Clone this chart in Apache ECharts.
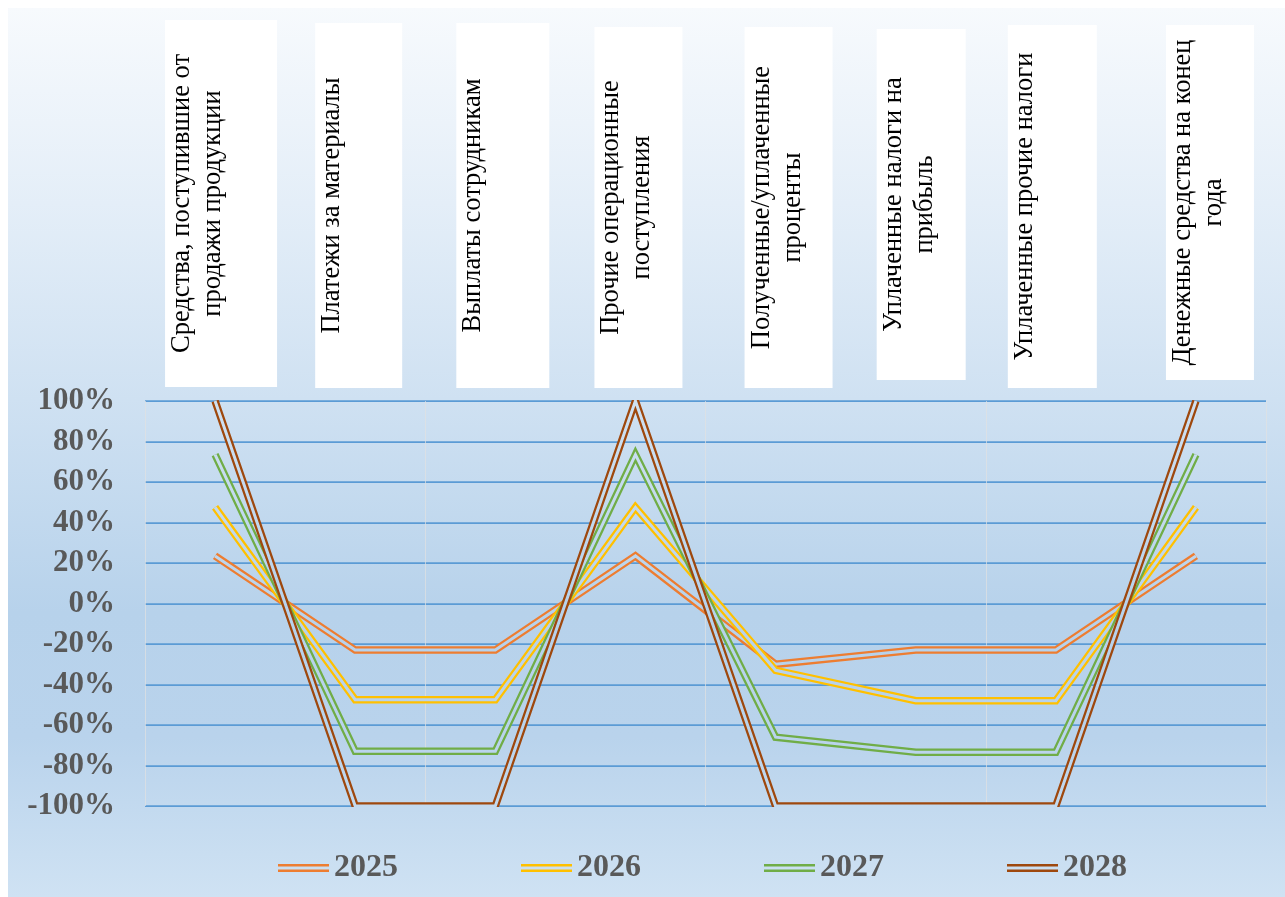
<!DOCTYPE html>
<html>
<head>
<meta charset="utf-8">
<script src="https://cdn.jsdelivr.net/npm/echarts@6/dist/echarts.min.js"></script>
<style>
html,body{margin:0;padding:0;background:#fff;width:1285px;height:897px;overflow:hidden;}
#chart{position:absolute;left:8px;top:8px;width:1277px;height:889px;
background:linear-gradient(to bottom,#f7fafd 0%,#e4eef8 22%,#cfe1f2 44%,#b7d2eb 68%,#b9d3ec 82%,#cfe2f3 100%);}
</style>
</head>
<body>
<div id="chart"></div>
<script>
const categories = [
  'Средства, поступившие от\nпродажи продукции',
  'Платежи за материалы',
  'Выплаты сотрудникам',
  'Прочие операционные\nпоступления',
  'Полученные/уплаченные\nпроценты',
  'Уплаченные налоги на\nприбыль',
  'Уплаченные прочие налоги',
  'Денежные средства на конец\nгода'
];
const years = ['2025', '2026', '2027', '2028'];
const values2025 = [23.5, -23, -23, 23.5, -30, -23, -23, 23.5];
const values2026 = [47.5, -47.5, -47.5, 47.5, -33, -48, -48, 47.5];
const values2027 = [73.5, -73, -73, 73.5, -66, -73.5, -73.5, 73.5];
const values2028 = [100, -100, -100, 100, -100, -100, -100, 100];
const seriesValues = [values2025, values2026, values2027, values2028];
const yMin = -100, yMax = 100, yStep = 20;

// styles
const colors = ['#ed7d31', '#ffc000', '#70ad47', '#9e480e'];
const bgStops = [
  {offset: 0, color: '#f7fafd'}, {offset: 0.22, color: '#e4eef8'},
  {offset: 0.44, color: '#cfe1f2'}, {offset: 0.68, color: '#b7d2eb'},
  {offset: 0.82, color: '#b9d3ec'}, {offset: 1, color: '#cfe2f3'}
];
const bgGradient = {type: 'linear', x: 0, y: 0, x2: 0, y2: 889, global: true, colorStops: bgStops};
// label box layout: offset from category centre, width, top, bottom (px)
const boxLayout = [
  {dx: -50, w: 112, top: 12, bottom: 379},
  {dx: -40, w: 87, top: 15, bottom: 380},
  {dx: -39, w: 93, top: 15, bottom: 380},
  {dx: -41, w: 88, top: 19, bottom: 380},
  {dx: -31, w: 88, top: 19, bottom: 380},
  {dx: -39, w: 89, top: 21, bottom: 372},
  {dx: -48, w: 89, top: 17, bottom: 380},
  {dx: -30, w: 88, top: 17, bottom: 372}
];
const serifFont = '"Liberation Serif", "Times New Roman", serif';

const chart = echarts.init(document.getElementById('chart'), null, {renderer: 'canvas'});

const series = [];
years.forEach(function (y, i) {
  series.push({
    name: y, type: 'line', data: seriesValues[i], symbol: 'none', showSymbol: false,
    color: colors[i],
    lineStyle: {color: colors[i], width: 7.5, cap: 'butt', join: 'miter', miterLimit: 20},
    emphasis: {disabled: true}, z: 2 + i * 2
  });
  series.push({
    name: y + ' ', type: 'line', data: seriesValues[i], symbol: 'none', showSymbol: false,
    lineStyle: {color: bgGradient, width: 3, cap: 'butt', join: 'miter', miterLimit: 20},
    emphasis: {disabled: true}, z: 3 + i * 2, silent: true
  });
});

chart.setOption({
  animation: false,
  backgroundColor: 'transparent',
  grid: {left: 137, right: 19, top: 393, bottom: 91, containLabel: false},
  legend: {
    data: years, left: 265, top: 839, itemWidth: 51, itemHeight: 8, itemGap: 123,
    icon: 'path://M0,0L51,0L51,2.4L0,2.4Z M0,5.6L51,5.6L51,8L0,8Z',
    itemStyle: {borderWidth: 0},
    textStyle: {fontFamily: serifFont, fontWeight: 'bold', fontSize: 32, color: '#595959', lineHeight: 32}
  },
  xAxis: {
    type: 'category', data: categories, boundaryGap: true,
    axisLine: {show: false}, axisTick: {show: false}, axisLabel: {show: false},
    splitLine: {show: true, lineStyle: {color: 'rgba(225,225,225,0.7)', width: 1}}
  },
  yAxis: {
    type: 'value', min: yMin, max: yMax, interval: yStep,
    axisLine: {show: false}, axisTick: {show: false},
    axisLabel: {formatter: '{value}%', margin: 30, fontFamily: serifFont, fontWeight: 'bold', fontSize: 31, color: '#595959'},
    splitLine: {show: true, lineStyle: {color: '#5b9bd5', width: 1.75}, z: 1}
  },
  series: series
});

const graphics = [];
// trim the stroke overhang of the clipped lines exactly at the plot edges
const gridRect = chart.getModel().getComponent('grid', 0).coordinateSystem.getRect();
const yTop = chart.convertToPixel({yAxisIndex: 0}, yMax);
const yBot = chart.convertToPixel({yAxisIndex: 0}, yMin);
graphics.push({type: 'rect', shape: {x: gridRect.x - 6, y: yTop - 8, width: gridRect.width + 12, height: 7.1},
  style: {fill: bgGradient}, z: 9, silent: true});
graphics.push({type: 'rect', shape: {x: gridRect.x - 6, y: yBot + 0.9, width: gridRect.width + 12, height: 7},
  style: {fill: bgGradient}, z: 9, silent: true});

categories.forEach(function (c, i) {
  const cx = chart.convertToPixel({xAxisIndex: 0}, c);
  const b = boxLayout[i];
  graphics.push({
    type: 'rect', shape: {x: cx + b.dx, y: b.top, width: b.w, height: b.bottom - b.top},
    style: {fill: '#ffffff'}, z: 10, silent: true
  });
  graphics.push({
    type: 'text', x: cx + b.dx + 1.5, y: (b.top + b.bottom) / 2, rotation: Math.PI / 2,
    style: {text: c, font: '26.5px ' + serifFont, fill: '#000000', align: 'center', verticalAlign: 'top', lineHeight: 31},
    z: 11, silent: true
  });
});
chart.setOption({graphic: graphics});
</script>
</body>
</html>
